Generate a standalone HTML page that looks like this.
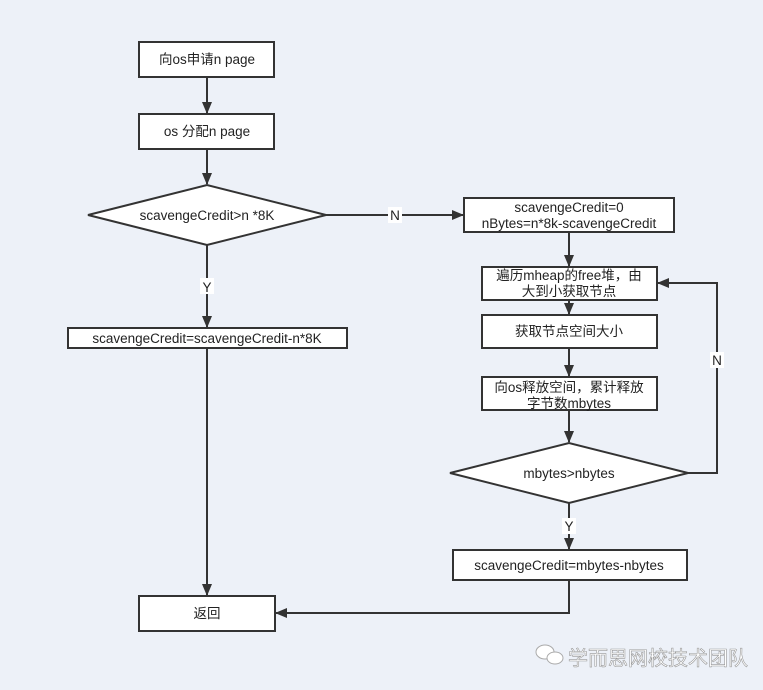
<!DOCTYPE html>
<html><head><meta charset="utf-8"><style>
html,body{margin:0;padding:0;background:#edf1f8;}
svg{display:block}
text{font-family:"Liberation Sans","Noto Sans CJK SC",sans-serif;font-size:13.5px;fill:#222;}
</style></head><body>
<svg width="763" height="690" viewBox="0 0 763 690" xmlns="http://www.w3.org/2000/svg">
<defs><marker id="a" markerWidth="12" markerHeight="10" refX="11" refY="5" orient="auto" markerUnits="userSpaceOnUse"><path d="M0,0 L12,5 L0,10 z" fill="#333"/></marker></defs>
<rect width="763" height="690" fill="#edf1f8"/>
<g stroke="#333" stroke-width="2" fill="none">
<line x1="207" y1="77" x2="207" y2="113" marker-end="url(#a)"/>
<line x1="207" y1="149" x2="207" y2="184" marker-end="url(#a)"/>
<line x1="207" y1="245" x2="207" y2="327" marker-end="url(#a)"/>
<line x1="207" y1="348" x2="207" y2="595" marker-end="url(#a)"/>
<line x1="326" y1="215" x2="463" y2="215" marker-end="url(#a)"/>
<line x1="569" y1="232" x2="569" y2="266" marker-end="url(#a)"/>
<line x1="569" y1="300" x2="569" y2="314" marker-end="url(#a)"/>
<line x1="569" y1="348" x2="569" y2="376" marker-end="url(#a)"/>
<line x1="569" y1="410" x2="569" y2="442" marker-end="url(#a)"/>
<line x1="569" y1="503" x2="569" y2="549" marker-end="url(#a)"/>
<polyline points="688,473 717,473 717,283 658,283" marker-end="url(#a)"/>
<polyline points="569,580 569,613 276,613" marker-end="url(#a)"/>
</g>
<g stroke="#333" stroke-width="2" fill="#fff">
<rect x="139" y="42" width="135" height="35"/>
<rect x="139" y="114" width="135" height="35"/>
<polygon points="88,215 207,185 326,215 207,245"/>
<rect x="68" y="328" width="279" height="20"/>
<rect x="139" y="596" width="136" height="35"/>
<rect x="464" y="198" width="210" height="34"/>
<rect x="482" y="267" width="175" height="33"/>
<rect x="482" y="315" width="175" height="33"/>
<rect x="482" y="377" width="175" height="33"/>
<polygon points="450,473 569,443 688,473 569,503"/>
<rect x="453" y="550" width="234" height="30"/>
</g>
<g fill="#fff"><rect x="200" y="278" width="14" height="16"/><rect x="388" y="207" width="14" height="16"/><rect x="710" y="352" width="14" height="16"/><rect x="562" y="518" width="14" height="16"/></g>
<g text-anchor="middle">
<text x="207" y="64">向os申请n page</text>
<text x="207" y="136">os 分配n page</text>
<text x="207" y="220">scavengeCredit&gt;n *8K</text>
<text x="207" y="292">Y</text>
<text x="207" y="343">scavengeCredit=scavengeCredit-n*8K</text>
<text x="207" y="618">返回</text>
<text x="395" y="220">N</text>
<text x="569" y="212">scavengeCredit=0</text>
<text x="569" y="228">nBytes=n*8k-scavengeCredit</text>
<text x="569" y="280">遍历mheap的free堆，由</text>
<text x="569" y="296">大到小获取节点</text>
<text x="569" y="336">获取节点空间大小</text>
<text x="569" y="392">向os释放空间，累计释放</text>
<text x="569" y="408">字节数mbytes</text>
<text x="569" y="478">mbytes&gt;nbytes</text>
<text x="717" y="365">N</text>
<text x="569" y="531">Y</text>
<text x="569" y="570">scavengeCredit=mbytes-nbytes</text>
</g>
<g fill="#fff" stroke="#aaa" stroke-width="1"><ellipse cx="545" cy="652" rx="9" ry="7"/><ellipse cx="555" cy="658" rx="8" ry="6"/></g>
<text x="568" y="665" style="font-size:20px;fill:#fff;stroke:#999;stroke-width:0.6">学而思网校技术团队</text>
</svg>
</body></html>
